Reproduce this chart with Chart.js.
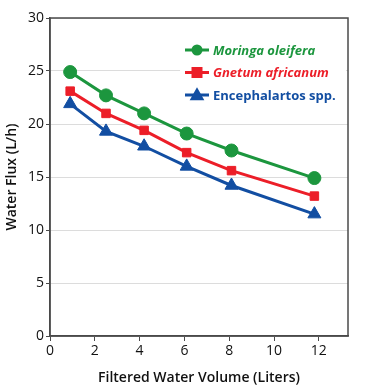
<!DOCTYPE html>
<html>
<head>
<meta charset="utf-8">
<script src="https://cdn.jsdelivr.net/npm/chart.js@4"></script>
<style>
  html, body { margin: 0; padding: 0; background: #fff; }
  #wrap { width: 366px; height: 390px; }
</style>
</head>
<body>
<div id="wrap"><canvas id="chart" width="366" height="390"></canvas></div>
<script>
'use strict'

let volume = [0.9, 2.5, 4.2, 6.1, 8.1, 11.8];
let moringa = [24.9, 22.7, 21.0, 19.1, 17.5, 14.9];
let gnetum = [23.1, 21.0, 19.4, 17.3, 15.6, 13.2];
let encephalartos = [21.9, 19.3, 17.9, 16.0, 14.2, 11.5];
let xTicks = [0, 2, 4, 6, 8, 10, 12];
let yTicks = [0, 5, 10, 15, 20, 25, 30];
let seriesNames = ['Moringa oleifera', 'Gnetum africanum', 'Encephalartos spp.'];

let green = 'rgb(28, 150, 62)';
let red = 'rgb(236, 30, 40)';
let blue = 'rgb(18, 78, 162)';
let axisColor = '#4a4a4a';
let font = '"Open Sans", "Noto Sans", sans-serif';

function toPoints(ys) {
    return volume.map((v, i) => ({ x: v, y: ys[i] }));
}

function series(label, ys, color, style, radius) {
    return {
        label: label,
        data: toPoints(ys),
        borderColor: color,
        backgroundColor: color,
        borderWidth: 3,
        pointStyle: style,
        pointRadius: radius,
        pointHoverRadius: radius,
        pointBorderWidth: 1
    };
}

function marker(ctx, style, x, y, r, color) {
    ctx.fillStyle = color;
    ctx.beginPath();
    if (style === 'circle') {
        ctx.arc(x, y, r, 0, Math.PI * 2);
    } else if (style === 'rect') {
        ctx.rect(x - r, y - r, r * 2, r * 2);
    } else {
        ctx.moveTo(x, y - r * 1.1);
        ctx.lineTo(x + r * 1.05, y + r * 0.75);
        ctx.lineTo(x - r * 1.05, y + r * 0.75);
        ctx.closePath();
    }
    ctx.fill();
}

// box round the plot and the legend inside it
const framePlugin = {
    id: 'frame',
    afterDatasetsDraw(chart) {
        let ctx = chart.ctx;
        let a = chart.chartArea;
        ctx.save();

        ctx.fillStyle = '#fff';
        ctx.fillRect(180, 36, 166, 72);

        let colors = [green, red, blue];
        let styles = ['circle', 'rect', 'triangle'];
        let sizes = [5.5, 5.5, 7];
        let fonts = ['italic bold 13px ' + font, 'italic bold 13px ' + font, 'bold 13px ' + font];
        for (let i = 0; i < 3; i++) {
            let y = 50 + i * 22.5;
            ctx.strokeStyle = colors[i];
            ctx.lineWidth = 3;
            ctx.beginPath();
            ctx.moveTo(185, y);
            ctx.lineTo(209, y);
            ctx.stroke();
            marker(ctx, styles[i], 197, y, sizes[i], colors[i]);
            ctx.fillStyle = colors[i];
            ctx.font = fonts[i];
            ctx.textBaseline = 'middle';
            ctx.fillText(seriesNames[i], 213, y + 1);
        }

        ctx.strokeStyle = axisColor;
        ctx.lineWidth = 1.5;
        ctx.strokeRect(a.left, a.top, a.right - a.left, a.bottom - a.top);
        ctx.restore();
    }
};

let canvas = document.getElementById('chart');
const chart = new Chart(canvas, {
    type: 'line',
    data: {
        datasets: [
            series(seriesNames[0], moringa, green, 'circle', 6.5),
            series(seriesNames[1], gnetum, red, 'rect', 6),
            series(seriesNames[2], encephalartos, blue, 'triangle', 7.5)
        ]
    },
    options: {
        responsive: false,
        animation: false,
        layout: { padding: { top: 18, right: 18, left: 0, bottom: 0 } },
        plugins: {
            legend: { display: false },
            tooltip: { enabled: false }
        },
        scales: {
            x: {
                type: 'linear',
                min: 0,
                max: 13.3,
                afterBuildTicks: (s) => { s.ticks = xTicks.map(v => ({ value: v })); },
                afterFit: (s) => { s.height = 54; },
                grid: { drawOnChartArea: false, drawTicks: true, tickLength: 5, tickColor: axisColor },
                border: { color: axisColor, width: 1.5 },
                ticks: { color: '#111', font: { family: font, size: 14 }, padding: 2, maxRotation: 0 },
                title: {
                    display: true,
                    text: 'Filtered Water Volume (Liters)',
                    color: '#111',
                    font: { family: font, size: 14, weight: '600' },
                    padding: { top: 8 }
                }
            },
            y: {
                min: 0,
                max: 30,
                afterBuildTicks: (s) => { s.ticks = yTicks.map(v => ({ value: v })); },
                afterFit: (s) => { s.width = 50; },
                grid: { color: '#dcdcdc', lineWidth: 1, drawTicks: true, tickLength: 4, tickColor: axisColor },
                border: { color: axisColor, width: 1.5 },
                ticks: { color: '#111', font: { family: font, size: 14 }, padding: 2 },
                title: {
                    display: true,
                    text: 'Water Flux (L/h)',
                    color: '#111',
                    font: { family: font, size: 14, weight: '600' },
                    padding: { bottom: 4 }
                }
            }
        }
    },
    plugins: [framePlugin]
});
</script>
</body>
</html>
